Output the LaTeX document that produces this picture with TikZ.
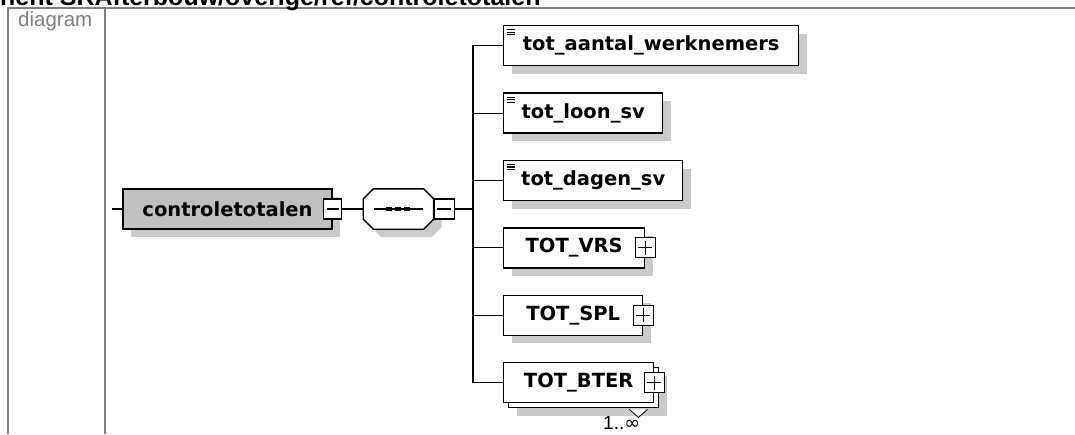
\documentclass[tikz,border=0pt]{standalone}
\usepackage{fontspec}
\setmainfont{Liberation Sans}
\newfontfamily\boxfont{DejaVu Sans}
\usepackage{tikz}
\usetikzlibrary{shapes,shadows,backgrounds,positioning}
\definecolor{framegray}{RGB}{128,128,128}
\definecolor{mainfill}{RGB}{192,192,192}
\definecolor{shadowgray}{RGB}{202,202,202}
\tikzstyle{conn} = [draw, line width=1.1pt, line cap=rect]
\tikzstyle{boxshadow} = [drop shadow={shadow xshift=8pt, shadow yshift=-8pt, fill=shadowgray, opacity=1}]
\tikzstyle{elembase} = [rectangle, draw, line width=1.4pt, fill=white, minimum height=40pt, inner sep=0pt, font=\boxfont\bfseries\fontsize{19.5}{23}\selectfont]
\tikzstyle{elem} = [elembase, boxshadow]
\tikzstyle{mainbox} = [elem, fill=mainfill]
\tikzstyle{simplebox} = [elem, path picture={
    \draw[line width=1.1pt] ([shift={(3pt,-4pt)}]path picture bounding box.north west) -- +(8pt,0pt);
    \draw[line width=1.1pt] ([shift={(3pt,-6.5pt)}]path picture bounding box.north west) -- +(8pt,0pt);
    \draw[line width=1.1pt] ([shift={(3pt,-9pt)}]path picture bounding box.north west) -- +(8pt,0pt);}]
\tikzstyle{pmbox} = [rectangle, draw, line width=1.1pt, fill=white, minimum size=20pt, inner sep=0pt]
\tikzstyle{minusbox} = [pmbox, path picture={
    \draw[line width=1.1pt] ([xshift=3pt]path picture bounding box.west) -- ([xshift=-3pt]path picture bounding box.east);}]
\tikzstyle{plusbox} = [pmbox, path picture={
    \draw[line width=1.1pt] ([xshift=3pt]path picture bounding box.west) -- ([xshift=-3pt]path picture bounding box.east);
    \draw[line width=1.1pt] ([yshift=-3pt]path picture bounding box.north) -- ([yshift=3pt]path picture bounding box.south);}]

\begin{document}
\begin{tikzpicture}[x=1pt, y=-1pt]
		\useasboundingbox (0,0) rectangle (1075,434);
		
		% table frame
		\draw[framegray, line width=2pt] (8,434) -- (8,8) -- (1075,8);
		\draw[framegray, line width=2pt] (105,8) -- (105,434);
		\node[anchor=base west, inner sep=0pt, font=\bfseries\fontsize{25}{30}\selectfont] (heading) at (0,5) {nent SRAfterbouw/overige/ref/controletotalen};
		\node[anchor=base west, inner sep=0pt, text=framegray, font=\fontsize{20.5}{24}\selectfont] (diag) at (18,26) {diagram};
		
		% element and sequence
		\coordinate (ctrl_in) at (113,209);
		\node[mainbox, minimum width=209pt] (ctrl) at (227.5,209) {controletotalen};
		\node[minusbox, minimum width=18pt] (ctrl_min) at (ctrl.east) {};
		\node[rectangle, minimum width=70pt, minimum height=40pt, inner sep=0pt, right=21pt of ctrl_min] (seq) {};
		\draw[line width=1.4pt, fill=white, boxshadow] ([xshift=10pt]seq.north west) -- ([xshift=-10pt]seq.north east) -- ([yshift=-10pt]seq.north east) -- ([yshift=10pt]seq.south east) -- ([xshift=-10pt]seq.south east) -- ([xshift=10pt]seq.south west) -- ([yshift=10pt]seq.south west) -- ([yshift=-10pt]seq.north west) -- cycle;
		\draw[conn] ([xshift=-24pt]seq.center) -- ([xshift=24pt]seq.center);
		\fill ([xshift=-9pt]seq.center) +(-3pt,-2.2pt) rectangle +(3pt,2.2pt);
		\fill (seq.center) +(-3pt,-2.2pt) rectangle +(3pt,2.2pt);
		\fill ([xshift=9pt]seq.center) +(-3pt,-2.2pt) rectangle +(3pt,2.2pt);
		\node[minusbox, right=0pt of seq] (seq_min) {};
		\coordinate (bus_mid) at (473,209);
		
		% children
		\node[simplebox, minimum width=295pt, anchor=north west] (werknemers) at (503,25) {tot\_aantal\_werknemers};
		\node[simplebox, minimum width=159pt, below right=26pt and 0pt of werknemers.south west] (loon) {tot\_loon\_sv};
		\node[simplebox, minimum width=179pt, below right=26pt and 0pt of loon.south west] (dagen) {tot\_dagen\_sv};
		\node[elem, minimum width=141pt, below right=26pt and 0pt of dagen.south west] (vrs) {TOT\_VRS};
		\node[plusbox] (vrs_plus) at (vrs.east) {};
		\node[elem, minimum width=139pt, below right=26pt and 0pt of vrs.south west] (spl) {TOT\_SPL};
		\node[plusbox] (spl_plus) at (spl.east) {};
		\node[elembase, minimum width=150pt, below right=26pt and 0pt of spl.south west] (bter) {TOT\_BTER};
		\node[plusbox] (bter_plus) at (bter.east) {};
		\begin{scope}[on background layer]
			\node[elem, minimum width=150pt] (bter_back) at ([xshift=5pt,yshift=-5pt]bter.center) {};
			\draw[line width=0.8pt, fill=white] ([xshift=-30pt,yshift=-1pt]bter_back.south east) -- ([xshift=-21pt,yshift=-9pt]bter_back.south east) -- ([xshift=-12pt,yshift=-1pt]bter_back.south east);
		\end{scope}
		\node[anchor=base west, inner sep=0pt, font=\fontsize{19}{23}\selectfont] (bter_occ) at (603,429) {1..{\boxfont ∞}};
		
		% connectors
		\draw[conn] (ctrl_in) -- (ctrl);
		\draw[conn] (ctrl_min) -- (seq);
		\draw[conn] (seq_min) -- (bus_mid);
		\draw[conn] (werknemers.west -| bus_mid) -- (bter.west -| bus_mid);
		\draw[conn] (werknemers.west -| bus_mid) -- (werknemers);
		\draw[conn] (loon.west -| bus_mid) -- (loon);
		\draw[conn] (dagen.west -| bus_mid) -- (dagen);
		\draw[conn] (vrs.west -| bus_mid) -- (vrs);
		\draw[conn] (spl.west -| bus_mid) -- (spl);
		\draw[conn] (bter.west -| bus_mid) -- (bter);
		\end{tikzpicture}
\end{document}
